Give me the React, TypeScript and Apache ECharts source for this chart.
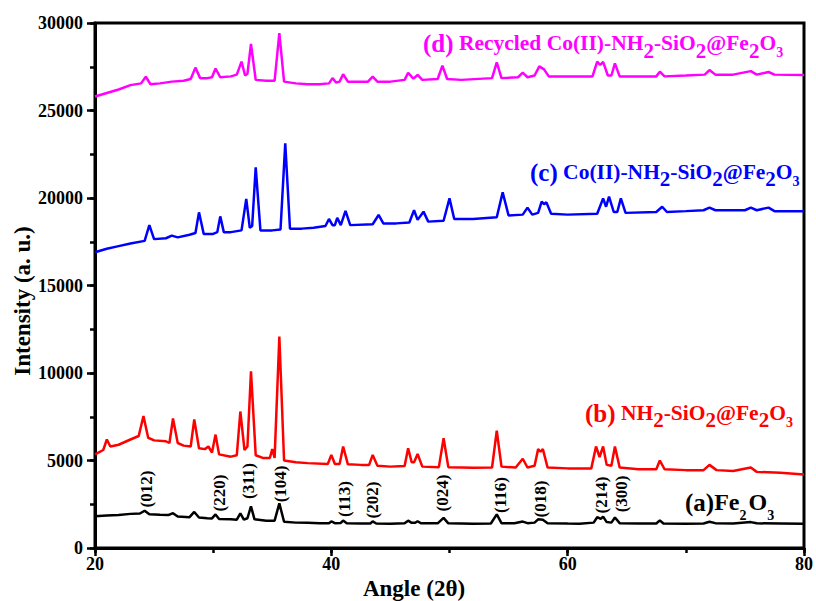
import React, { useEffect, useRef } from "react";
import * as echarts from "echarts";

const FONT = '"Liberation Serif", "Times New Roman", serif';

// (a) Fe2O3 — black
const angleIntensityA: number[][] = [
  [20, 1820], [21, 1860], [22, 1890], [23, 1950], [23.8, 1970], [24.2, 2130], [24.6, 1930], [25.5, 1900],
  [26.2, 1880], [26.6, 1990], [27, 1800], [28, 1760], [28.4, 2060], [28.8, 1740], [29.5, 1700], [29.9, 1690],
  [30.2, 1920], [30.5, 1660], [31.5, 1640], [32, 1620], [32.3, 1980], [32.6, 1620], [32.9, 1700], [33.2, 2380],
  [33.5, 1640], [34.5, 1560], [35.2, 1560], [35.6, 2550], [36.0, 1500], [37, 1450], [38, 1440], [39, 1420],
  [39.8, 1420], [40.0, 1520], [40.3, 1420], [40.8, 1430], [41.0, 1570], [41.3, 1420], [42.5, 1400], [43.3, 1400],
  [43.5, 1520], [43.8, 1400], [45, 1390], [46.2, 1410], [46.5, 1560], [46.8, 1440], [47.1, 1440], [47.3, 1530],
  [47.6, 1410], [49, 1410], [49.5, 1720], [49.9, 1410], [51, 1400], [52, 1390], [53.5, 1400], [54, 1920],
  [54.4, 1420], [55.5, 1410], [56.2, 1510], [56.6, 1420], [57.2, 1450], [57.5, 1640], [57.9, 1620], [58.3, 1420],
  [60, 1400], [61, 1390], [62.2, 1450], [62.5, 1760], [62.8, 1660], [63, 1790], [63.3, 1480], [63.7, 1450],
  [64, 1740], [64.4, 1420], [66, 1400], [67.5, 1400], [67.8, 1580], [68.1, 1400], [70, 1390], [71.5, 1400],
  [72, 1500], [72.5, 1420], [74, 1400], [75.5, 1480], [76, 1410], [78, 1400], [80, 1390],
];

// (b) NH2-SiO2@Fe2O3 — red
const angleIntensityB: number[][] = [
  [20, 5350], [20.7, 5600], [21, 6200], [21.3, 5800], [22, 5900], [23, 6200], [23.7, 6400], [24.1, 7540],
  [24.5, 6300], [25, 6150], [26, 6100], [26.3, 6000], [26.6, 7400], [27, 6000], [27.5, 5850], [28.1, 5800],
  [28.4, 7350], [28.8, 5700], [29.3, 5650], [29.6, 5800], [29.9, 5450], [30.2, 6480], [30.5, 5350], [31.5, 5220],
  [32.0, 5300], [32.3, 7800], [32.65, 5600], [32.9, 5800], [33.2, 10100], [33.6, 5300], [34.2, 5150], [34.8, 5150],
  [35.0, 5650], [35.2, 5150], [35.6, 12080], [36.0, 5000], [37, 4900], [38, 4850], [39.7, 4800], [40.0, 5320],
  [40.3, 4800], [40.7, 4800], [41.0, 5800], [41.4, 4780], [42.5, 4750], [43.2, 4750], [43.5, 5320], [43.9, 4700],
  [45, 4650], [46.2, 4680], [46.5, 5700], [46.8, 4900], [47.0, 4900], [47.3, 5370], [47.7, 4650], [49.1, 4620],
  [49.5, 6270], [49.9, 4620], [51, 4600], [52, 4580], [53.6, 4600], [54, 6700], [54.4, 4650], [55.6, 4600],
  [56.2, 5100], [56.6, 4600], [57.2, 4700], [57.5, 5650], [57.7, 5500], [57.9, 5650], [58.3, 4600], [60, 4550],
  [62, 4550], [62.4, 5800], [62.7, 5200], [63, 5800], [63.3, 4750], [63.7, 4700], [64.0, 5800], [64.4, 4600],
  [66, 4500], [67.5, 4500], [67.8, 5000], [68.2, 4500], [70, 4450], [71.5, 4450], [72, 4750], [72.6, 4450],
  [74, 4400], [75.5, 4600], [76, 4350], [78, 4300], [80, 4200],
];

// (c) Co(II)-NH2-SiO2@Fe2O3 — blue
const angleIntensityC: number[][] = [
  [20, 16900], [21, 17100], [22, 17250], [23, 17400], [24.2, 17550], [24.6, 18450], [25, 17650], [26, 17700],
  [26.5, 17850], [27, 17750], [28, 17900], [28.5, 18000], [28.8, 19180], [29.2, 17950], [30, 17950], [30.35, 18050],
  [30.6, 18950], [30.9, 18050], [31.5, 18050], [32.4, 18150], [32.8, 19950], [33.1, 18300], [33.3, 18400], [33.6, 21750],
  [34.0, 18150], [35, 18150], [35.7, 18200], [36.1, 23120], [36.5, 18250], [37.5, 18250], [38.5, 18300], [39.5, 18400],
  [39.8, 18800], [40.1, 18450], [40.3, 18450], [40.5, 18870], [40.8, 18450], [41.2, 19260], [41.6, 18450], [43.5, 18500],
  [44.0, 19030], [44.4, 18550], [45.5, 18550], [46.6, 18600], [47.0, 19300], [47.3, 18750], [47.8, 19220], [48.2, 18650],
  [49.5, 18700], [50.0, 19980], [50.4, 18800], [52, 18800], [54, 18900], [54.5, 20320], [55, 19000], [56.2, 19050],
  [56.6, 19450], [57.0, 19050], [57.5, 19150], [57.8, 19790], [58, 19650], [58.2, 19750], [58.6, 19100], [60, 19050],
  [62.5, 19100], [63.0, 19980], [63.25, 19500], [63.5, 20080], [63.9, 19200], [64.2, 19200], [64.5, 19980], [64.9, 19150],
  [67.5, 19200], [68, 19500], [68.4, 19200], [70, 19250], [71.5, 19300], [72, 19450], [72.5, 19300], [75, 19300],
  [75.5, 19450], [76, 19300], [77, 19450], [77.5, 19250], [80, 19250],
];

// (d) Recycled Co(II)-NH2-SiO2@Fe2O3 — magenta
const angleIntensityD: number[][] = [
  [20, 25800], [21, 26000], [22, 26200], [23, 26450], [23.9, 26550], [24.3, 26930], [24.7, 26500], [25.5, 26550],
  [26.5, 26650], [27.5, 26700], [28.1, 26800], [28.5, 27450], [28.9, 26850], [29.5, 26850], [29.9, 26900], [30.2, 27400],
  [30.6, 26900], [31.5, 26950], [32.0, 27050], [32.4, 27790], [32.7, 27000], [32.9, 27100], [33.2, 28800], [33.6, 26750],
  [34.5, 26700], [35.2, 26700], [35.6, 29420], [36.0, 26650], [37, 26550], [38, 26500], [39, 26500], [39.8, 26550],
  [40.1, 26850], [40.4, 26600], [40.7, 26650], [41.0, 27070], [41.4, 26650], [43.1, 26650], [43.5, 26930], [43.9, 26650],
  [45, 26650], [46.2, 26750], [46.5, 27160], [46.9, 26850], [47.0, 26850], [47.3, 27030], [47.7, 26750], [49, 26800],
  [49.4, 27560], [49.8, 26800], [51, 26750], [53.6, 26850], [54, 27750], [54.4, 26850], [55.8, 26900], [56.2, 27160],
  [56.6, 26900], [57.2, 27000], [57.6, 27520], [58.0, 27350], [58.4, 26950], [60, 26950], [62.1, 26950], [62.5, 27790],
  [62.75, 27600], [63, 27780], [63.4, 27000], [63.7, 27000], [64, 27690], [64.4, 26950], [66, 26950], [67.5, 26950],
  [67.8, 27220], [68.2, 26950], [70, 27000], [71.6, 27050], [72, 27310], [72.5, 27050], [74, 27050], [75.5, 27250],
  [76, 27050], [77, 27200], [77.5, 27050], [80, 27030],
];

// Miller index labels for Fe2O3 (angle, intensity of label centre)
const hklLabels = ["(012)", "(220)", "(311)", "(104)", "(113)", "(202)", "(024)", "(116)", "(018)", "(214)", "(300)"];
const hklAngles = [24.33, 30.53, 32.98, 35.74, 41.09, 43.45, 49.37, 54.33, 57.71, 62.9, 64.59];
const hklLevels = [3370, 3140, 3830, 3660, 2800, 2740, 3140, 3030, 2800, 3030, 3090];

const xTicks = { min: 20, max: 80, interval: 20 };
const xMinorInterval = 10;
const yTicks = { min: 0, max: 30000, interval: 5000 };
const yMinorInterval = 2500;

export default function App() {
  const ref = useRef<HTMLDivElement>(null);

  useEffect(() => {
    if (!ref.current) return;
    const chart = echarts.init(ref.current, undefined, { renderer: "svg" });
    const axisCommon = {
      axisLine: { show: true, onZero: false, lineStyle: { color: "#000", width: 3 } },
      axisTick: { show: true, inside: false, length: 8, lineStyle: { color: "#000", width: 2.5 } },
      splitLine: { show: false },
      axisLabel: {
        color: "#000", fontFamily: FONT, fontWeight: "bold", fontSize: 18,
        formatter: (v: number) => String(v),
      },
    };
    const minorAxis = {
      type: "value",
      axisLine: { show: false, onZero: false },
      axisTick: { show: true, inside: false, length: 5, lineStyle: { color: "#000", width: 2.5 } },
      axisLabel: { show: false },
      splitLine: { show: false },
      offset: 0,
    };
    const mk = (name: string, data: number[][], color: string) => ({
      name,
      type: "line",
      data,
      showSymbol: false,
      symbol: "none",
      lineStyle: { color, width: 2.5 },
      itemStyle: { color },
      z: 3,
    });
    chart.setOption({
      animation: false,
      backgroundColor: "#fff",
      grid: { left: 95, right: 11, top: 23, bottom: 53, show: true, borderColor: "#000", borderWidth: 3, backgroundColor: "transparent" },
      xAxis: [
        {
          type: "value",
          ...xTicks,
          ...axisCommon,
          axisLabel: { ...axisCommon.axisLabel, margin: 7 },
        },
        { ...minorAxis, position: "bottom", min: xTicks.min, max: xTicks.max, interval: xMinorInterval },
      ],
      yAxis: [
        {
          type: "value",
          ...yTicks,
          ...axisCommon,
          axisLabel: { ...axisCommon.axisLabel, margin: 12 },
        },
        { ...minorAxis, position: "left", min: yTicks.min, max: yTicks.max, interval: yMinorInterval },
      ],
      series: [
        mk("(a) Fe2O3", angleIntensityA, "#000000"),
        mk("(b) NH2-SiO2@Fe2O3", angleIntensityB, "#ff0000"),
        mk("(c) Co(II)-NH2-SiO2@Fe2O3", angleIntensityC, "#0000ff"),
        mk("(d) Recycled Co(II)-NH2-SiO2@Fe2O3", angleIntensityD, "#ff00ff"),
      ],
    });

    const bold = (size: number, color: string, extra: any = {}) => ({
      fontSize: size, fontWeight: "bold", fontFamily: FONT, fill: color, ...extra,
    });
    const richFor = (color: string, s2: number, s3: number, sSize: number, tSize: number) => ({
      p: bold(25, color),
      m: bold(21.5, color),
      s: bold(sSize, color, { padding: [s2, 0, 0, 0] }),
      t: bold(tSize, color, { padding: [s3, 0, 0, 0] }),
    });

    const graphics: any[] = [];
    hklLabels.forEach((lab, i) => {
      const [px, py] = chart.convertToPixel({ xAxisIndex: 0, yAxisIndex: 0 }, [hklAngles[i], hklLevels[i]]) as number[];
      graphics.push({
        type: "text",
        x: px,
        y: py,
        rotation: Math.PI / 2,
        style: { text: lab, align: "center", verticalAlign: "middle", font: `bold 17px ${FONT}`, fill: "#000" },
        z: 10,
      });
    });
    graphics.push(
      {
        type: "text", x: 423, y: 43, z: 10,
        style: {
          text: "{p|(d)}{m| Recycled Co(II)-NH}{s|2}{m|-SiO}{s|2}{m|@Fe}{s|2}{m|O}{t|3}",
          align: "left", verticalAlign: "middle",
          rich: richFor("#ff00ff", 16, 19, 21, 14),
        },
      },
      {
        type: "text", x: 530, y: 172, z: 10,
        style: {
          text: "{p|(c)}{m| Co(II)-NH}{s|2}{m|-SiO}{s|2}{m|@Fe}{s|2}{m|O}{t|3}",
          align: "left", verticalAlign: "middle",
          rich: richFor("#0000ff", 14, 19, 21, 14),
        },
      },
      {
        type: "text", x: 585, y: 413, z: 10,
        style: {
          text: "{p|(b)}{m| NH}{s|2}{m|-SiO}{s|2}{m|@Fe}{s|2}{m|O}{t|3}",
          align: "left", verticalAlign: "middle",
          rich: richFor("#ff0000", 14, 19, 21, 14),
        },
      },
      {
        type: "text", x: 685, y: 502, z: 10,
        style: {
          text: "{p|(a)}{m|Fe}{s|2}{m|O}{t|3}",
          align: "left", verticalAlign: "middle",
          rich: {
            p: bold(25, "#000"),
            m: bold(24, "#000"),
            s: bold(14, "#000", { padding: [26, 2, 0, 0] }),
            t: bold(14, "#000", { padding: [26, 0, 0, 0] }),
          },
        },
      },
      {
        type: "text", x: 414, y: 588, z: 10,
        style: { text: "Angle (2θ)", align: "center", verticalAlign: "middle", font: `bold 23px ${FONT}`, fill: "#000" },
      },
      {
        type: "text", x: 22, y: 301, rotation: Math.PI / 2, z: 10,
        style: { text: "Intensity (a. u.)", align: "center", verticalAlign: "middle", font: `bold 23px ${FONT}`, fill: "#000" },
      }
    );
    chart.setOption({ graphic: graphics });

    return () => chart.dispose();
  }, []);

  return <div ref={ref} style={{ width: 816, height: 601, position: "absolute", left: 0, top: 0 }} />;
}
